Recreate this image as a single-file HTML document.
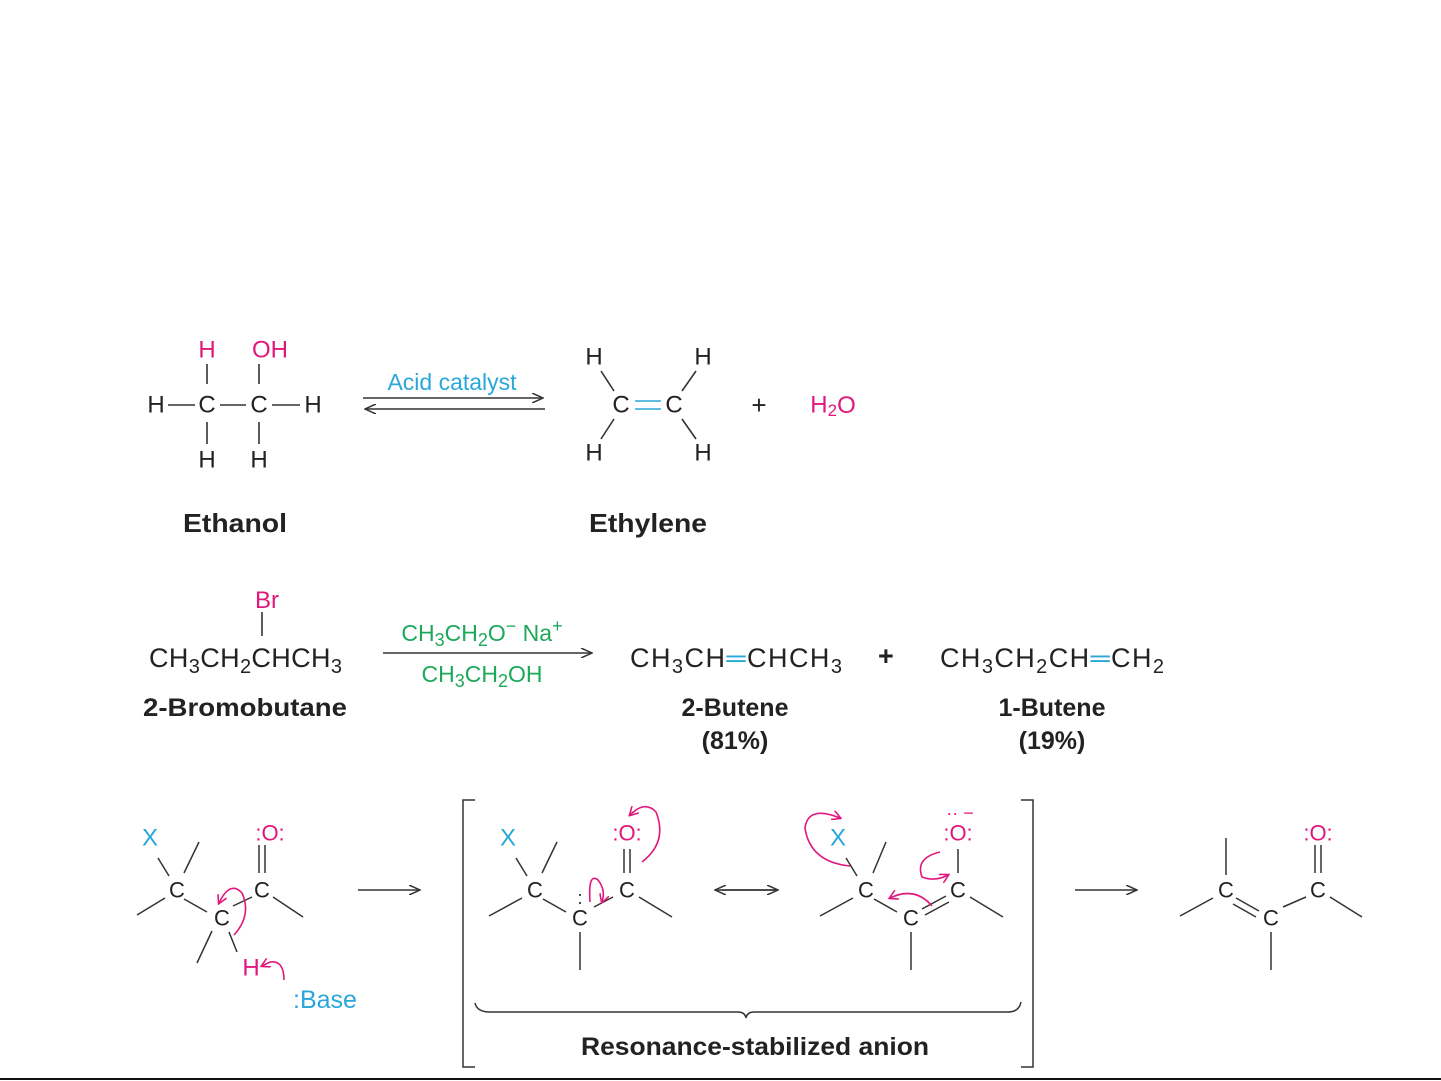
<!DOCTYPE html>
<html><head><meta charset="utf-8"><style>
html,body{margin:0;padding:0;background:#fff;}
svg{display:block;}
text{font-family:"Liberation Sans",sans-serif;}
</style></head><body>
<svg width="1441" height="1081" viewBox="0 0 1441 1081" xmlns="http://www.w3.org/2000/svg">
<defs>
<marker id="ah" markerWidth="12" markerHeight="10" refX="11" refY="5" orient="auto" markerUnits="userSpaceOnUse"><path d="M0,0 L11,5 L0,10" fill="none" stroke="#333" stroke-width="1.5"/></marker>
<marker id="mh" markerWidth="10" markerHeight="10" refX="8" refY="5" orient="auto" markerUnits="userSpaceOnUse"><path d="M0,0 L9,5 L0,10" fill="none" stroke="#e0187c" stroke-width="1.6"/></marker>
</defs>
<g font-size="24" fill="#222" text-anchor="middle" dominant-baseline="central">
<text x="207" y="350" fill="#e0187c">H</text>
<text x="270" y="350" fill="#e0187c">OH</text>
<text x="156" y="405">H</text><text x="207" y="405">C</text><text x="259" y="405">C</text><text x="313" y="405">H</text>
<text x="207" y="460">H</text><text x="259" y="460">H</text>
<text x="235" y="523" font-weight="bold" font-size="26" textLength="104" lengthAdjust="spacingAndGlyphs">Ethanol</text>
<text x="594" y="357">H</text><text x="703" y="357">H</text>
<text x="621" y="405">C</text><text x="674" y="405">C</text>
<text x="594" y="453">H</text><text x="703" y="453">H</text>
<text x="648" y="523" font-weight="bold" font-size="26" textLength="118" lengthAdjust="spacingAndGlyphs">Ethylene</text>
<text x="759" y="405" font-size="26">+</text>
<text x="833" y="405" fill="#e0187c">H<tspan font-size="17" dy="5">2</tspan><tspan dy="-5">O</tspan></text>
<text x="452" y="382" fill="#29a7d8" font-size="23">Acid catalyst</text>
</g>
<g stroke="#333" stroke-width="1.6" fill="none">
<line x1="207" y1="364" x2="207" y2="384"/><line x1="259" y1="364" x2="259" y2="384"/>
<line x1="207" y1="422" x2="207" y2="444"/><line x1="259" y1="422" x2="259" y2="444"/>
<line x1="168" y1="405" x2="195" y2="405"/><line x1="220" y1="405" x2="246" y2="405"/><line x1="272" y1="405" x2="300" y2="405"/>
<line x1="601" y1="371" x2="614" y2="391"/><line x1="696" y1="371" x2="682" y2="391"/>
<line x1="614" y1="419" x2="601" y2="439"/><line x1="682" y1="419" x2="696" y2="439"/>
<line x1="363" y1="398" x2="543" y2="398" marker-end="url(#ah)"/>
<line x1="545" y1="409" x2="365" y2="409" marker-end="url(#ah)"/>
</g>
<g stroke="#29a7d8" stroke-width="1.6"><line x1="635" y1="401" x2="661" y2="401"/><line x1="635" y1="409" x2="661" y2="409"/></g>

<g font-size="27" fill="#222">
<text x="255" y="608" fill="#e0187c" font-size="24">Br</text>
<text x="149" y="667" textLength="193" lengthAdjust="spacing">CH<tspan font-size="20" dy="6">3</tspan><tspan dy="-6">CH</tspan><tspan font-size="20" dy="6">2</tspan><tspan dy="-6">CHCH</tspan><tspan font-size="20" dy="6">3</tspan></text>
<text x="630" y="667" textLength="212" lengthAdjust="spacing">CH<tspan font-size="20" dy="6">3</tspan><tspan dy="-6">CH</tspan><tspan fill="#29a7d8">═</tspan>CHCH<tspan font-size="20" dy="6">3</tspan></text>
<text x="878" y="665" font-weight="bold">+</text>
<text x="940" y="667" textLength="224" lengthAdjust="spacing">CH<tspan font-size="20" dy="6">3</tspan><tspan dy="-6">CH</tspan><tspan font-size="20" dy="6">2</tspan><tspan dy="-6">CH</tspan><tspan fill="#29a7d8">═</tspan>CH<tspan font-size="20" dy="6">2</tspan></text>
<g fill="#1ea85a" font-size="23" text-anchor="middle">
<text x="482" y="641">CH<tspan font-size="18" dy="5">3</tspan><tspan dy="-5">CH</tspan><tspan font-size="18" dy="5">2</tspan><tspan dy="-5">O</tspan><tspan font-size="18" dy="-9">−</tspan><tspan dy="9">  Na</tspan><tspan font-size="18" dy="-9">+</tspan></text>
<text x="482" y="682">CH<tspan font-size="18" dy="5">3</tspan><tspan dy="-5">CH</tspan><tspan font-size="18" dy="5">2</tspan><tspan dy="-5">OH</tspan></text>
</g>
<g font-weight="bold" font-size="25" text-anchor="middle">
<text x="245" y="716" textLength="204" lengthAdjust="spacingAndGlyphs">2-Bromobutane</text>
<text x="735" y="716">2-Butene</text><text x="735" y="749">(81%)</text>
<text x="1052" y="716">1-Butene</text><text x="1052" y="749">(19%)</text>
</g>
</g>
<g stroke="#333" stroke-width="1.6" fill="none">
<line x1="262" y1="612" x2="262" y2="636"/>
<line x1="383" y1="653" x2="592" y2="653" marker-end="url(#ah)"/>
</g>

<g font-size="22" fill="#222" text-anchor="middle" dominant-baseline="central">
<text x="150" y="838" fill="#29a7d8" font-size="24">X</text>
<text x="177" y="890">C</text><text x="222" y="918">C</text><text x="262" y="890">C</text>
<text x="270" y="833" fill="#e0187c">:O:</text>
<text x="251" y="968" fill="#e0187c" font-size="24">H</text>
<text x="325" y="1000" fill="#29a7d8" font-size="25">:Base</text>

<text x="508" y="838" fill="#29a7d8" font-size="24">X</text>
<text x="535" y="890">C</text><text x="580" y="918">C</text><text x="627" y="890">C</text>
<text x="580" y="898" font-size="18">:</text>
<text x="627" y="833" fill="#e0187c">:O:</text>

<text x="838" y="838" fill="#29a7d8" font-size="24">X</text>
<text x="866" y="890">C</text><text x="911" y="918">C</text><text x="958" y="890">C</text>
<text x="958" y="833" fill="#e0187c">:O:</text>
<text x="960" y="813" fill="#e0187c" font-size="18">·· −</text>

<text x="1226" y="890">C</text><text x="1271" y="918">C</text><text x="1318" y="890">C</text>
<text x="1318" y="833" fill="#e0187c">:O:</text>

<text x="755" y="1047" font-weight="bold" font-size="25" textLength="348" lengthAdjust="spacingAndGlyphs">Resonance-stabilized anion</text>
</g>
<g stroke="#333" stroke-width="1.5" fill="none">
<line x1="158" y1="858" x2="169" y2="876"/><line x1="199" y1="842" x2="184" y2="873"/>
<line x1="137" y1="915" x2="165" y2="898"/><line x1="184" y1="899" x2="207" y2="912"/>
<line x1="233" y1="906" x2="252" y2="897"/><line x1="273" y1="897" x2="303" y2="917"/>
<line x1="259" y1="845" x2="259" y2="873"/><line x1="265" y1="845" x2="265" y2="873"/>
<line x1="212" y1="931" x2="197" y2="963"/><line x1="229" y1="932" x2="237" y2="952"/>
<line x1="358" y1="890" x2="420" y2="890" marker-end="url(#ah)"/>
<path d="M475,800 H463 V1067 H475"/><path d="M1021,800 H1033 V1067 H1021"/>
<path d="M475,1003 Q477,1012 490,1012 H738 Q745,1012 746,1018 Q747,1012 754,1012 H1008 Q1019,1012 1021,1002"/>
<line x1="516" y1="858" x2="527" y2="876"/><line x1="557" y1="842" x2="542" y2="873"/>
<line x1="489" y1="916" x2="522" y2="898"/><line x1="543" y1="899" x2="566" y2="912"/>
<line x1="594" y1="907" x2="613" y2="897"/><line x1="639" y1="897" x2="672" y2="917"/>
<line x1="624" y1="849" x2="624" y2="873"/><line x1="630" y1="849" x2="630" y2="873"/>
<line x1="580" y1="932" x2="580" y2="970"/>
<line x1="722" y1="890" x2="778" y2="890" marker-end="url(#ah)"/>
<line x1="778" y1="890" x2="715" y2="890" marker-end="url(#ah)"/>
<line x1="846" y1="858" x2="857" y2="876"/><line x1="886" y1="842" x2="873" y2="873"/>
<line x1="820" y1="916" x2="853" y2="898"/><line x1="874" y1="899" x2="897" y2="912"/>
<line x1="922" y1="909" x2="946" y2="896"/><line x1="925" y1="915" x2="949" y2="902"/>
<line x1="970" y1="897" x2="1003" y2="917"/>
<line x1="958" y1="849" x2="958" y2="873"/>
<line x1="911" y1="932" x2="911" y2="970"/>
<line x1="1075" y1="890" x2="1137" y2="890" marker-end="url(#ah)"/>
<line x1="1226" y1="838" x2="1226" y2="875"/>
<line x1="1180" y1="916" x2="1213" y2="898"/>
<line x1="1236" y1="898" x2="1259" y2="911"/><line x1="1233" y1="904" x2="1256" y2="917"/>
<line x1="1283" y1="907" x2="1306" y2="897"/><line x1="1330" y1="897" x2="1362" y2="917"/>
<line x1="1315" y1="845" x2="1315" y2="873"/><line x1="1321" y1="845" x2="1321" y2="873"/>
<line x1="1271" y1="932" x2="1271" y2="970"/>
</g>
<g stroke="#e0187c" stroke-width="1.6" fill="none">
<path d="M234,935 Q252,915 242,893 Q230,880 219,903" marker-end="url(#mh)"/>
<path d="M284,980 Q284,960 270,962 L262,966" marker-end="url(#mh)"/>
<path d="M590,902 Q588,872 598,880 Q606,890 602,902" marker-end="url(#mh)"/>
<path d="M642,862 Q668,842 656,812 Q645,800 630,815" marker-end="url(#mh)"/>
<path d="M850,866 Q810,862 805,828 Q808,805 840,818" marker-end="url(#mh)"/>
<path d="M940,852 Q915,858 922,877 Q935,882 948,875" marker-end="url(#mh)"/>
<path d="M932,906 Q915,886 890,898" marker-end="url(#mh)"/>
</g>
<line x1="0" y1="1079" x2="1441" y2="1079" stroke="#111" stroke-width="2"/>
</svg>
</body></html>
